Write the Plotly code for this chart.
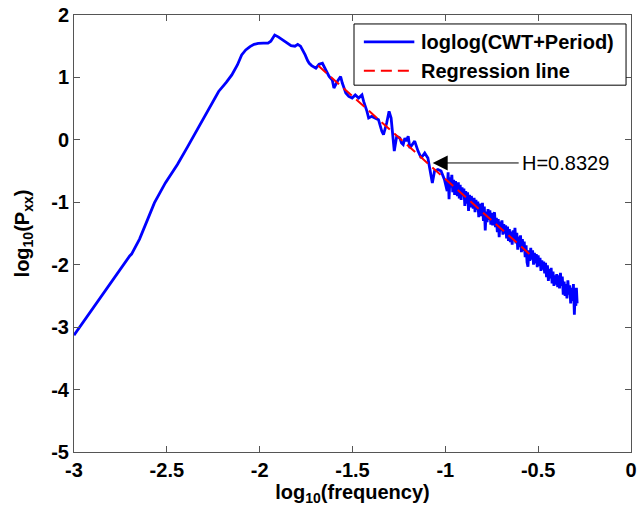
import plotly.graph_objects as go

# Blue curve: loglog(CWT+Period)
curve_x = [-3.0, -2.9, -2.8, -2.7, -2.69, -2.647, -2.6, -2.567, -2.508, -2.443, -2.39, -2.31,
           -2.26, -2.221, -2.18, -2.15, -2.12, -2.097, -2.075, -2.052, -2.03, -2.008, -1.98,
           -1.955, -1.94, -1.919, -1.9, -1.875, -1.85, -1.831, -1.81, -1.795, -1.78, -1.768,
           -1.755, -1.742, -1.733, -1.72, -1.705, -1.697, -1.68, -1.662,
           -1.644, -1.626, -1.609, -1.600, -1.582, -1.564, -1.555, -1.536, -1.52, -1.502,
           -1.485, -1.467, -1.449, -1.44, -1.422, -1.413, -1.396, -1.378, -1.36, -1.342,
           -1.333, -1.316, -1.303, -1.292, -1.285, -1.275, -1.262, -1.245, -1.236, -1.227,
           -1.218, -1.21, -1.2, -1.191, -1.165, -1.147, -1.13, -1.111, -1.094, -1.085,
           -1.076, -1.07, -1.058, -1.04, -1.023, -1.005,
           -0.99, -0.985, -0.98, -0.975, -0.97, -0.965, -0.96, -0.955, -0.95, -0.945,
           -0.94, -0.935, -0.93, -0.925, -0.92, -0.915, -0.91, -0.905, -0.90, -0.895,
           -0.89, -0.885, -0.88, -0.875, -0.87, -0.865, -0.86, -0.855, -0.85, -0.845,
           -0.84, -0.835, -0.83, -0.825, -0.82, -0.815, -0.81, -0.805, -0.80, -0.795,
           -0.79, -0.785, -0.78, -0.775, -0.77, -0.765, -0.76, -0.755, -0.75, -0.745,
           -0.74, -0.735, -0.73, -0.725, -0.72, -0.715, -0.71, -0.705, -0.70, -0.695,
           -0.69, -0.685, -0.68, -0.675, -0.67, -0.665, -0.66, -0.655, -0.65, -0.645,
           -0.64, -0.635, -0.63, -0.625, -0.62, -0.615, -0.61, -0.605, -0.60, -0.595,
           -0.59, -0.585, -0.58, -0.575, -0.57, -0.565, -0.56, -0.555, -0.55, -0.545,
           -0.54, -0.535, -0.53, -0.525, -0.52, -0.515, -0.51, -0.505, -0.50, -0.495,
           -0.49, -0.485, -0.48, -0.475, -0.47, -0.465, -0.46, -0.455, -0.45, -0.445,
           -0.44, -0.435, -0.43, -0.425, -0.42, -0.415, -0.41, -0.405, -0.40, -0.395,
           -0.39, -0.385, -0.38, -0.375, -0.37, -0.365, -0.36, -0.355, -0.35, -0.345,
           -0.34, -0.335, -0.33, -0.325, -0.32, -0.315, -0.31, -0.305, -0.30, -0.297,
           -0.294, -0.29]
curve_y = [-3.13, -2.70, -2.27, -1.86, -1.83, -1.59, -1.25, -1.01, -0.69, -0.395, -0.12, 0.30,
           0.58, 0.775, 0.92, 1.04, 1.20, 1.36, 1.44, 1.494, 1.53, 1.547, 1.55,
           1.55, 1.58, 1.68, 1.65, 1.60, 1.55, 1.51, 1.50, 1.53, 1.50, 1.44,
           1.36, 1.27, 1.227, 1.19, 1.16, 1.147, 1.21, 1.227,
           1.12, 1.015, 0.96, 0.83, 0.935, 1.015, 0.91, 0.75, 0.695, 0.67,
           0.72, 0.67, 0.72, 0.615, 0.456, 0.35, 0.376, 0.35, 0.324, 0.137,
           0.084, 0.27, 0.456, 0.35, 0.084, -0.18, 0.057, 0.03, -0.05, -0.075,
           0.03, -0.02, 0.057, -0.13, -0.02, -0.18, -0.29, -0.21, -0.29, -0.45,
           -0.555, -0.69, -0.50, -0.475, -0.50, -0.635,
           -0.82, -0.52, -0.95, -0.60, -0.76, -0.56, -0.84, -0.64, -0.88, -0.66,
           -0.80, -0.90, -0.68, -0.94, -0.72, -0.96, -0.76, -0.88, -0.78, -1.06,
           -0.82, -1.02, -0.84, -1.14, -0.88, -1.08, -0.90, -1.02, -1.10, -0.93,
           -1.16, -0.96, -1.12, -0.99, -1.24, -1.02, -1.13, -1.22, -1.01, -1.30,
           -1.07, -1.45, -1.15, -1.32, -1.11, -1.28, -1.13, -1.36, -1.17, -1.37,
           -1.21, -1.16, -1.40, -1.25, -1.48, -1.27, -1.56, -1.31, -1.46, -1.29,
           -1.52, -1.35, -1.50, -1.37, -1.58, -1.39, -1.62, -1.43, -1.64, -1.47,
           -1.68, -1.45, -1.60, -1.41, -1.66, -1.49, -1.76, -1.55, -1.72, -1.53,
           -1.80, -1.59, -1.78, -1.63, -1.88, -1.69, -1.96, -2.03, -1.77, -1.94,
           -1.73, -1.92, -1.77, -2.00, -1.81, -1.98, -1.83, -2.04, -1.85, -2.02,
           -1.89, -2.10, -1.93, -2.08, -1.95, -2.14, -1.97, -2.20, -2.01, -2.26,
           -2.07, -2.22, -2.05, -2.30, -2.11, -2.34, -2.17, -2.32, -2.15, -2.36,
           -2.17, -2.38, -2.13, -2.34, -2.19, -2.48, -2.27, -2.50, -2.31, -2.54,
           -2.25, -2.48, -2.33, -2.62, -2.37, -2.58, -2.31, -2.80, -2.41, -2.66,
           -2.37, -2.62]

# Red dashed regression line endpoints
reg_x = [-1.685, -0.535]
reg_y = [1.19, -1.86]

# Annotation
h_label = "H=0.8329"
arrow_head = (-1.068, -0.37)
arrow_tail_x = -0.597

legend_labels = ["loglog(CWT+Period)", "Regression line"]

x_ticks = [-3, -2.5, -2, -1.5, -1, -0.5, 0]
x_tick_labels = ["-3", "-2.5", "-2", "-1.5", "-1", "-0.5", "0"]
y_ticks = [-5, -4, -3, -2, -1, 0, 1, 2]
y_tick_labels = ["-5", "-4", "-3", "-2", "-1", "0", "1", "2"]

FONT = "Arial, Liberation Sans, Helvetica, sans-serif"
BLUE = "#0000FF"
RED = "#FF0000"

fig = go.Figure()
fig.add_trace(go.Scatter(x=curve_x, y=curve_y, mode="lines",
                         line=dict(color=BLUE, width=2.8),
                         name=legend_labels[0], showlegend=False))
fig.add_trace(go.Scatter(x=reg_x, y=reg_y, mode="lines",
                         line=dict(color=RED, width=2, dash="11px,6px"),
                         name=legend_labels[1], showlegend=False))

fig.add_annotation(x=arrow_head[0], y=arrow_head[1], ax=arrow_tail_x, ay=arrow_head[1],
                   xref="x", yref="y", axref="x", ayref="y", text="",
                   showarrow=True, arrowhead=2, arrowsize=3, arrowwidth=1,
                   arrowcolor="#000000")
fig.add_annotation(x=arrow_tail_x, y=arrow_head[1], xref="x", yref="y",
                   text=h_label, showarrow=False, xanchor="left", yanchor="middle",
                   font=dict(family=FONT, size=20, color="#000000"))

# Legend box (MATLAB style), drawn in paper coordinates
fig.add_shape(type="rect", xref="paper", yref="paper", x0=0.5027, x1=0.9911,
              y0=0.8394, y1=0.9795, line=dict(color="#000000", width=1),
              fillcolor="#FFFFFF", layer="above")
legend_rows = [0.9385, 0.8724]
legend_styles = [dict(color=BLUE, width=2.6), dict(color=RED, width=2, dash="11px,6px")]
for row_y, style, label in zip(legend_rows, legend_styles, legend_labels):
    fig.add_shape(type="line", xref="paper", yref="paper", x0=0.5204, x1=0.611,
                  y0=row_y, y1=row_y, line=style, layer="above")
    fig.add_annotation(x=0.6199, y=row_y, xref="paper", yref="paper", text="<b>%s</b>" % label,
                       showarrow=False, xanchor="left", yanchor="middle",
                       font=dict(family=FONT, size=20, color="#000000"))

axis_common = dict(showline=True, linecolor="#555555", linewidth=1, mirror="ticks",
                   ticks="inside", ticklen=6, tickwidth=1, tickcolor="#555555",
                   showgrid=False, zeroline=False, ticklabeloverflow="allow",
                   tickfont=dict(family=FONT, size=20, color="#000000", weight="bold"))

fig.update_xaxes(range=[-3, 0], tickvals=x_ticks, ticktext=x_tick_labels,
                 title=dict(text="<b>log<sub>10</sub>(frequency)</b>",
                            font=dict(family=FONT, size=20, color="#000000"), standoff=4),
                 **axis_common)
fig.update_yaxes(range=[-5, 2], tickvals=y_ticks, ticktext=y_tick_labels,
                 title=dict(text="<b>log<sub>10</sub>(P<sub>xx</sub>)</b>",
                            font=dict(family=FONT, size=20, color="#000000"), standoff=16),
                 **axis_common)

fig.update_layout(
    width=641, height=511,
    margin=dict(l=74, r=4, t=13, b=59),
    paper_bgcolor="#FFFFFF", plot_bgcolor="#FFFFFF",
    font=dict(family=FONT, size=20, color="#000000"),
    showlegend=False,
)

fig.write_html("out.html")
